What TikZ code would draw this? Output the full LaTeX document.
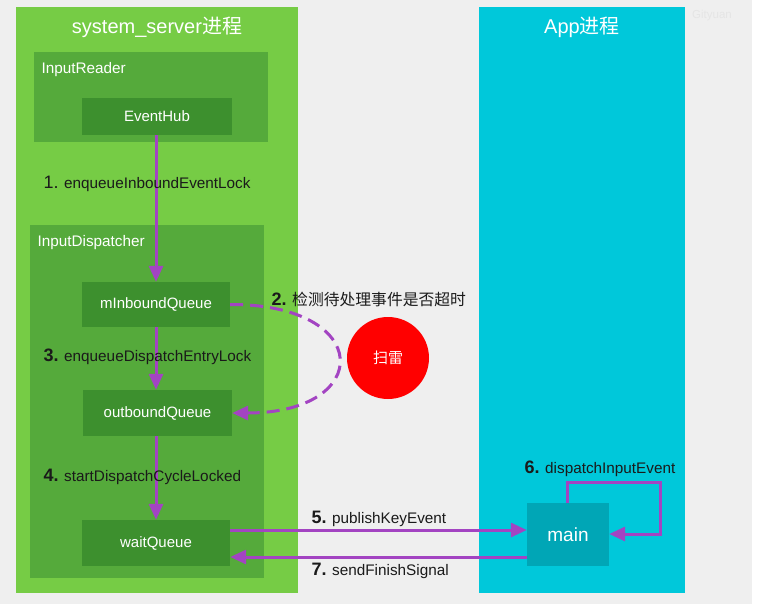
\documentclass[tikz,border=0pt]{standalone}
\usepackage{fontspec}
\setmainfont{Liberation Sans}
\newfontfamily\cjk{Noto Sans CJK SC}
\usetikzlibrary{arrows.meta}
\definecolor{bggray}{HTML}{EFEFEF}
\definecolor{lgreen}{HTML}{76CC45}
\definecolor{mgreen}{HTML}{55AA3B}
\definecolor{dgreen}{HTML}{3D902E}
\definecolor{appcyan}{HTML}{00C8DA}
\definecolor{maincyan}{HTML}{00A6B6}
\definecolor{arrowpurple}{HTML}{A344C2}
\definecolor{minered}{HTML}{FF0000}
\definecolor{labelblack}{HTML}{1A1A1A}
\tikzset{
  panel/.style={fill=#1, draw=none},
  qbox/.style={fill=dgreen, draw=none, text=white, font=\fontsize{15}{15}\selectfont},
  grouplbl/.style={text=white, anchor=west, font=\fontsize{15.3}{15.3}\selectfont},
  title/.style={text=white, font=\fontsize{20}{20}\selectfont},
  steplbl/.style={text=labelblack, anchor=west, font=\fontsize{15.3}{15.3}\selectfont},
  flow/.style={draw=arrowpurple, line width=3pt, -{Triangle[length=16pt,width=14pt]}},
}
\newcommand{\stepno}[1]{{\fontsize{18}{18}\selectfont\bfseries #1}}
\begin{document}
\begin{tikzpicture}[x=1pt,y=-1pt]
\useasboundingbox (0,0) rectangle (769,608);
\fill[bggray] (0,0) rectangle (752,604);
% panels
\fill[lgreen] (16,7) rectangle (298,593);
\fill[appcyan] (479,7) rectangle (685,593);
\node[title] (t1) at (157,27) {system\_server{\cjk 进程}};
\node[title] (t2) at (582,27) {App{\cjk 进程}};
\node[text=black!10, font=\fontsize{11.5}{11.5}\selectfont] (wm) at (712,16) {Gityuan};
% groups
\fill[mgreen] (34,52) rectangle (268,142);
\node[grouplbl] (ir) at (38,70) {InputReader};
\fill[mgreen] (30,225) rectangle (264,578);
\node[grouplbl] (id) at (34,243) {InputDispatcher};
% queue boxes
\node[qbox, minimum width=150pt, minimum height=37pt] (eh) at (157,116.5) {EventHub};
\node[qbox, minimum width=148pt, minimum height=45pt] (inq) at (156,304.5) {mInboundQueue};
\node[qbox, minimum width=149pt, minimum height=46pt] (outq) at (157.5,413) {outboundQueue};
\node[qbox, minimum width=148pt, minimum height=46pt] (wq) at (156,543) {waitQueue};
\node[fill=maincyan, text=white, minimum width=82pt, minimum height=63pt, font=\fontsize{19}{19}\selectfont] (main) at (568,534.5) {main};
% mine
\node[circle, fill=minered, minimum size=82pt, text=white, font=\cjk\fontsize{15}{15}\selectfont] (mine) at (388,358) {扫雷};
% flows
\draw[flow] (eh.south -| inq.north) -- (inq.north);
\draw[flow] (inq.south) -- (inq.south |- outq.north);
\draw[flow] (outq.south -| wq.north) -- (wq.north);
\coordinate (p5a) at (230,530);
\coordinate (p5b) at (527,530);
\draw[flow] (wq.east |- p5a) -- (main.west |- p5b);
\coordinate (p7) at (527,557);
\draw[flow] (main.west |- p7) -- (wq.east |- p7);
\coordinate (l1) at (567,482);
\coordinate (l2) at (660,482);
\coordinate (l3) at (660,534);
\draw[flow] (main.north -| l1) -- (l1) -- (l2) -- (l3) -- (main.east |- l3);
\draw[flow, dash pattern=on 13pt off 7pt] (inq.east) .. controls (374,304) and (374,413) .. (outq.east);
% labels
\node[steplbl] (s1) at (40,184) {{\fontsize{18}{18}\selectfont 1.} enqueueInboundEventLock};
\node[steplbl] (s2) at (268,299) {\stepno{2.} {\cjk\fontsize{15.8}{15.8}\selectfont 检测待处理事件是否超时}};
\node[steplbl] (s3) at (40,357) {\stepno{3.} enqueueDispatchEntryLock};
\node[steplbl] (s4) at (40,477) {\stepno{4.} startDispatchCycleLocked};
\node[steplbl] (s5) at (308,519) {\stepno{5.} publishKeyEvent};
\node[steplbl] (s6) at (521,469) {\stepno{6.} dispatchInputEvent};
\node[steplbl] (s7) at (308,571) {\stepno{7.} sendFinishSignal};
\end{tikzpicture}
\end{document}
